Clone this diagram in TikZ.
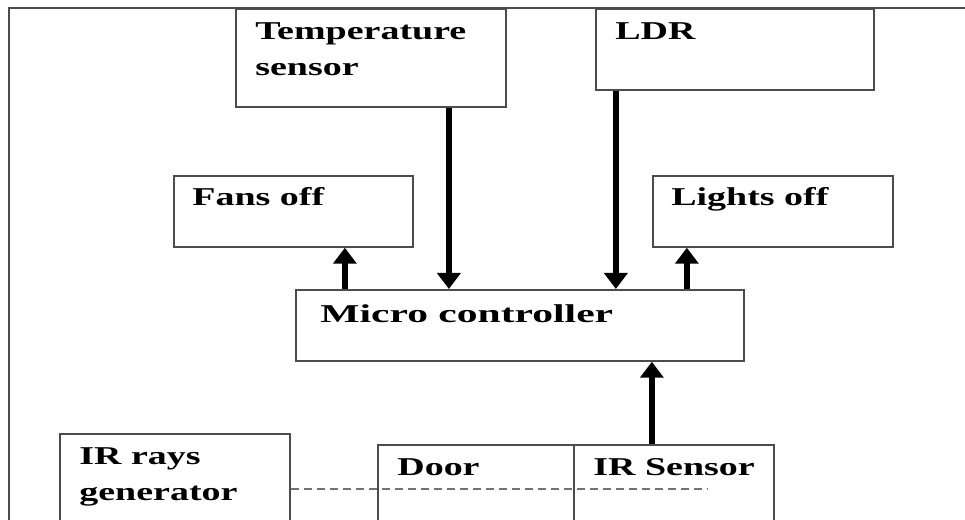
\documentclass[tikz,border=0pt]{standalone}
\usepackage{fontspec}
\setmainfont{Liberation Serif}
\newfontfamily\boxfont[FakeStretch=1.48]{Liberation Serif}
\newfontfamily\widefont[FakeStretch=1.62]{Liberation Serif}
\usepackage{tikz}
\usetikzlibrary{arrows.meta}

\begin{document}
\begin{tikzpicture}[
    block/.style={draw=black!70, line width=1pt, inner sep=0pt, anchor=north west},
    lbl/.style={inner sep=0pt, anchor=north west, align=left,
      font=\boxfont\bfseries\fontsize{14.6}{20.5}\selectfont},
    flow/.style={line width=3.2pt, -{Triangle[length=0.32cm, width=0.46cm]}},
    beam/.style={draw=black!55, line width=1pt, dash pattern=on 0.16cm off 0.1cm}
  ]
  % Fix the page to the size of the figure
  \useasboundingbox (0,0) rectangle (19.3,10.4);
  \clip (0,0) rectangle (19.3,10.4);

  % Outer frame, cut off at the right and at the bottom
  \draw[black!70, line width=1pt] (0.18,-0.5) -- (0.18,10.24) -- (19.8,10.24);

  % Sensors at the top
  \node[block, minimum width=5.40cm, minimum height=1.96cm] (temp) at (4.70,10.24) {};
  \node[lbl] (temp-lbl) at ([xshift=0.4cm, yshift=-0.28cm]temp.north west) {Temperature\\sensor};
  \node[block, minimum width=5.56cm, minimum height=1.62cm] (ldr) at (11.90,10.24) {};
  \node[lbl] (ldr-lbl) at ([xshift=0.4cm, yshift=-0.28cm]ldr.north west) {LDR};

  % Outputs
  \node[block, minimum width=4.78cm, minimum height=1.42cm] (fans) at (3.46,6.90) {};
  \node[lbl] (fans-lbl) at ([xshift=0.38cm, yshift=-0.24cm]fans.north west) {Fans off};
  \node[block, minimum width=4.80cm, minimum height=1.42cm] (lights) at (13.04,6.90) {};
  \node[lbl] (lights-lbl) at ([xshift=0.38cm, yshift=-0.24cm]lights.north west) {Lights off};

  % The controller
  \node[block, minimum width=8.96cm, minimum height=1.42cm] (micro) at (5.90,4.62) {};
  \node[lbl, font=\widefont\bfseries\fontsize{14.6}{20.5}\selectfont] (micro-lbl)
    at ([xshift=0.5cm, yshift=-0.30cm]micro.north west) {Micro controller};

  % IR pair at the door, cut off by the page
  \node[block, minimum width=4.60cm, minimum height=2.20cm] (gen) at (1.18,1.74) {};
  \node[lbl] (gen-lbl) at ([xshift=0.4cm, yshift=-0.28cm]gen.north west) {IR rays\\generator};
  \node[block, minimum width=3.92cm, minimum height=1.98cm] (door) at (7.54,1.52) {};
  \node[lbl] (door-lbl) at ([xshift=0.4cm, yshift=-0.28cm]door.north west) {Door};
  \node[block, minimum width=4.00cm, minimum height=1.98cm] (irs) at (11.46,1.52) {};
  \node[lbl] (irs-lbl) at ([xshift=0.4cm, yshift=-0.28cm]irs.north west) {IR Sensor};

  % Signals into and out of the controller
  \draw[flow] ([xshift=1.56cm]temp.south) -- ([xshift=1.56cm]temp.south |- micro.north);
  \draw[flow] ([xshift=-2.38cm]ldr.south) -- ([xshift=-2.38cm]ldr.south |- micro.north);
  \draw[flow] ([xshift=1.03cm]fans.south |- micro.north) -- ([xshift=1.03cm]fans.south);
  \draw[flow] ([xshift=-1.72cm]lights.south |- micro.north) -- ([xshift=-1.72cm]lights.south);
  \draw[flow] ([xshift=-0.44cm]irs.north) -- ([xshift=-0.44cm]irs.north |- micro.south);

  % IR beam across the door
  \coordinate (beam-end) at (14.14,0);
  \draw[beam] (gen.east) -- (gen.east -| beam-end);

\end{tikzpicture}
\end{document}
